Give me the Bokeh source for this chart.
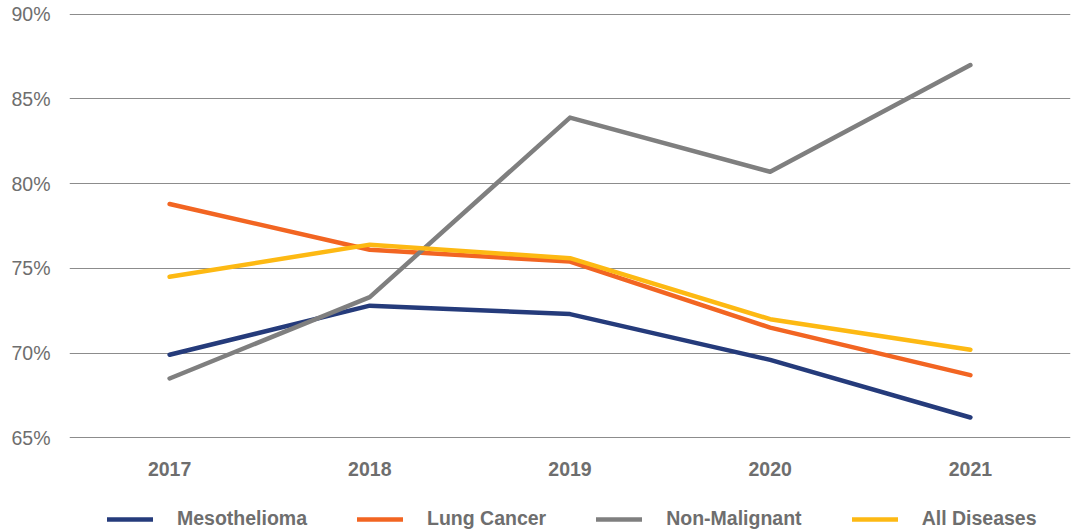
from bokeh.plotting import figure
from bokeh.layouts import column
from bokeh.models import Legend, LegendItem, FixedTicker, CustomJSTickFormatter, Range1d
from bokeh.embed import file_html
from bokeh.resources import INLINE

years = ["2017", "2018", "2019", "2020", "2021"]
mesothelioma = [69.9, 72.8, 72.3, 69.6, 66.2]
lung_cancer = [78.8, 76.1, 75.4, 71.5, 68.7]
non_malignant = [68.5, 73.3, 83.9, 80.7, 87.0]
all_diseases = [74.5, 76.4, 75.6, 72.0, 70.2]
y_ticks = [65, 70, 75, 80, 85, 90]

series = [
    ("Mesothelioma", mesothelioma, "#253B7B"),
    ("Lung Cancer", lung_cancer, "#F26522"),
    ("Non-Malignant", non_malignant, "#7F7F7F"),
    ("All Diseases", all_diseases, "#FDB913"),
]

FONT = "Liberation Sans"
FSIZE = "19.5px"
TCOLOR = "#6E6E6E"

p = figure(x_range=years, y_range=(64.9, 90.1), width=1071, height=500,
           frame_width=1001, frame_height=427,
           output_backend="svg", toolbar_location=None,
           min_border_left=69, min_border_right=1, min_border_top=12, min_border_bottom=61)

for name, vals, color in series:
    p.line(years, vals, line_color=color, line_width=4.5,
           line_cap="round", line_join="round")

p.outline_line_color = None
p.xgrid.grid_line_color = None
p.ygrid.grid_line_color = "#8C8C8C"
p.ygrid.grid_line_width = 1
p.yaxis.ticker = FixedTicker(ticks=y_ticks)
p.yaxis.formatter = CustomJSTickFormatter(code="return tick + '%';")

for ax in (p.xaxis, p.yaxis):
    ax.axis_line_color = None
    ax.major_tick_line_color = None
    ax.minor_tick_line_color = None
    ax.major_label_text_color = TCOLOR
    ax.major_label_text_font = FONT
    ax.major_label_text_font_size = FSIZE

p.yaxis.major_label_standoff = 13
p.xaxis.major_label_text_font_style = "bold"
p.xaxis.major_label_standoff = 16

# Legend strip below the chart (its proxy lines lie outside the strip's visible range)
lg = figure(x_range=Range1d(0, 1), y_range=Range1d(0, 1), width=1071, height=31,
            frame_width=1071, frame_height=31,
            output_backend="svg", toolbar_location=None,
            min_border_left=0, min_border_right=0, min_border_top=0, min_border_bottom=0)
lg.axis.visible = False
lg.grid.visible = False
lg.outline_line_color = None

items = []
for name, vals, color in series:
    r = lg.line(x=list(range(len(vals))), y=vals, line_color=color, line_width=4.5,
                line_cap="round")
    items.append(LegendItem(label=name, renderers=[r]))

legend = Legend(items=items, orientation="horizontal", location=(107, 1),
                glyph_width=46, glyph_height=20, label_standoff=24, spacing=50,
                label_text_font=FONT, label_text_font_style="bold",
                label_text_font_size=FSIZE, label_text_color=TCOLOR,
                border_line_color=None, background_fill_alpha=0,
                padding=0, margin=0)
lg.add_layout(legend, "center")

layout = column(p, lg, spacing=0)
open("out.html", "w").write(file_html(layout, INLINE))
